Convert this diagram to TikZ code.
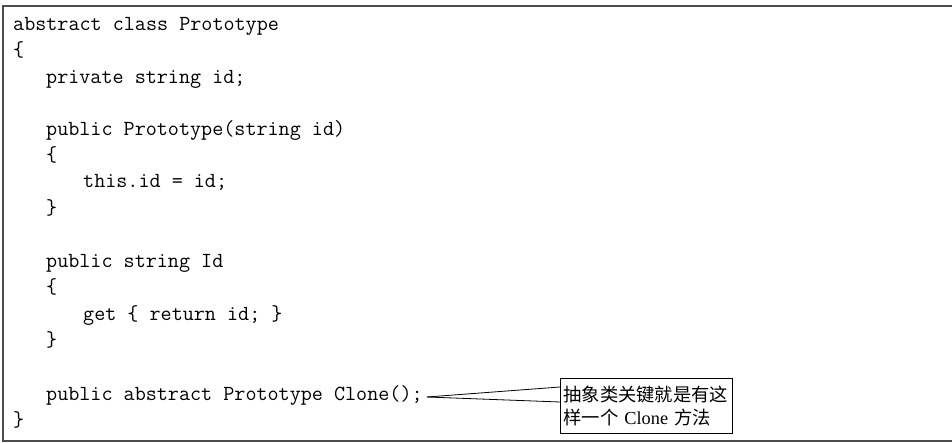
\documentclass[tikz,border=0pt]{standalone}
\usepackage{fontspec}
\setmainfont{Liberation Serif}
\newfontfamily\cjk{Noto Sans CJK SC}
\usetikzlibrary{positioning}
\tikzset{
	code/.style={anchor=base west, inner sep=0pt, font=\ttfamily\fontsize{21.5}{26}\selectfont},
	note/.style={draw, thick, anchor=north west, minimum width=172pt, minimum height=55pt,
		text width=166pt, align=left, inner sep=3pt, font=\cjk\fontsize{18.3}{23}\selectfont},
}
\begin{document}
\begin{tikzpicture}[x=1pt, y=-1pt]
	\useasboundingbox (0,0) rectangle (952,443);
	% frame round the listing
	\draw[line width=1.5pt, black!70] (952,6) -- (3,6) -- (3,441) -- (952,441);

	\node[code] (l0) at (13,31) {abstract class Prototype};
	\node[code] (l1) at (13,57) {\{};
	\node[code] (l2) at (46,84) {private string id;};
	\node[code] (l4) at (46,136) {public Prototype(string id)};
	\node[code] (l5) at (46,162) {\{};
	\node[code] (l6) at (83,188) {this.id = id;};
	\node[code] (l7) at (46,215) {\}};
	\node[code] (l9) at (46,268) {public string Id};
	\node[code] (l10) at (46,294) {\{};
	\node[code] (l11) at (83,320) {get \{ return id; \}};
	\node[code] (l12) at (46,346) {\}};
	\node[code] (l14) at (46,400) {public abstract Prototype Clone();};
	\node[code] (l15) at (13,426) {\}};

	% callout
	\node[note] (hint) at (560,378) {抽象类关键就是有这\\样一个 {\rmfamily Clone} 方法};
	\coordinate (tip) at ([xshift=4pt, yshift=3pt]l14.base east);
	\draw[thick] (tip) -- ([yshift=-9pt]hint.north west);
	\draw[thick] (tip) -- ([yshift=-24pt]hint.north west);
\end{tikzpicture}
\end{document}
